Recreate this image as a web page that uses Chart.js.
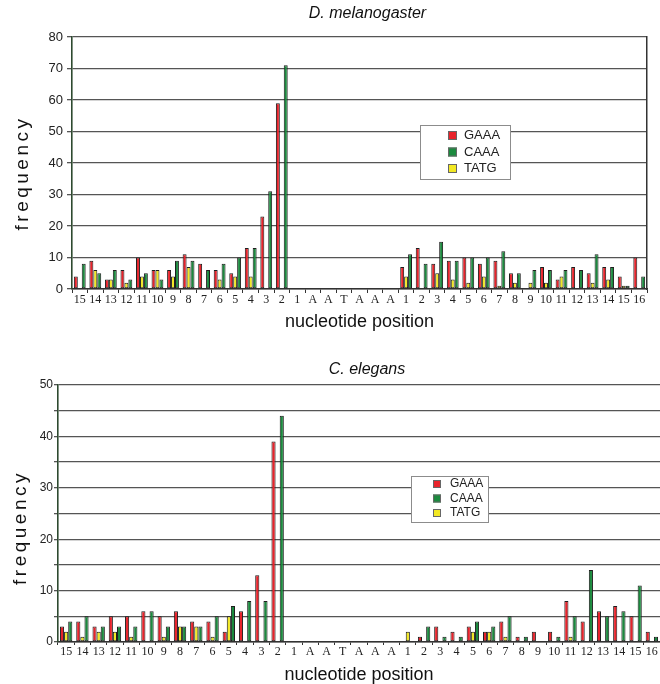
<!DOCTYPE html>
<html><head><meta charset="utf-8">
<script src="https://cdn.jsdelivr.net/npm/chart.js@4.4.1/dist/chart.umd.min.js"></script>
<style>
html,body{margin:0;padding:0;background:#fff;}
#wrap{position:relative;width:660px;height:684px;overflow:hidden;}
.box{position:absolute;left:0;width:660px;}
canvas{display:block;}
</style></head><body>
<div id="wrap">
<div class="box" style="top:0;height:340px"><canvas id="c1" width="660" height="340"></canvas></div>
<div class="box" style="top:340px;height:344px"><canvas id="c2" width="660" height="344"></canvas></div>
</div>
<script>
// ---- data ----
const positions = ['15','14','13','12','11','10','9','8','7','6','5','4','3','2','1',
  'A','A','T','A','A','A',
  '1','2','3','4','5','6','7','8','9','10','11','12','13','14','15','16'];

const melGAAA = [4,9,3,6,10,6,6,11,8,6,5,13,23,59,0, 0,0,0,0,0,0, 7,13,8,9,10,8,9,5,0,7,3,7,5,7,4,10];
const melTATG = [0,6,3,2,4,6,4,7,0,3,4,4,0,0,0, 0,0,0,0,0,0, 4,0,5,3,2,4,1,2,2,2,4,0,2,3,1,0];
const melCAAA = [8,5,6,3,5,3,9,9,6,8,10,13,31,71,0, 0,0,0,0,0,0, 11,8,15,9,10,10,12,5,6,6,6,6,11,7,1,4];

const celGAAA = [3,4,3,5,5,6,5,6,4,4,2,6,13,39,0, 0,0,0,0,0,0, 0,1,3,2,3,2,4,1,2,2,8,4,6,7,5,2];
const celTATG = [2,1,2,2,1,0,1,3,3,1,5,0,0,0,0, 0,0,0,0,0,0, 2,0,0,0,2,2,1,0,0,0,1,0,0,0,0,0];
const celCAAA = [4,5,3,3,3,6,3,3,3,5,7,8,8,44,0, 0,0,0,0,0,0, 0,3,1,1,4,3,5,1,0,1,5,14,5,6,11,1];

const seriesNames = ['GAAA','TATG','CAAA'];
const legendOrder = ['GAAA','CAAA','TATG'];
const colors = {GAAA:'#e8232b', TATG:'#f2e823', CAAA:'#1b8a3e'};

// ---- legend box plugin ----
const boxLegend = {
  id: 'boxLegend',
  afterDatasetsDraw(chart, args, o) {
    const ctx = chart.ctx;
    ctx.save();
    ctx.fillStyle = '#ffffff';
    ctx.fillRect(o.x, o.y, o.w, o.h);
    ctx.strokeStyle = '#8c8c8c';
    ctx.lineWidth = 1;
    ctx.strokeRect(o.x + 0.5, o.y + 0.5, o.w, o.h);
    legendOrder.forEach((name, i) => {
      const ds = chart.data.datasets.find(d => d.label === name);
      const cy = o.y + o.first + i * o.gap;
      ctx.fillStyle = ds.backgroundColor;
      ctx.fillRect(o.sx, cy - o.sq / 2, o.sq, o.sq);
      ctx.strokeStyle = '#666';
      ctx.strokeRect(o.sx + 0.5, cy - o.sq / 2 + 0.5, o.sq - 1, o.sq - 1);
      ctx.fillStyle = '#222';
      ctx.font = o.font;
      ctx.textBaseline = 'middle';
      ctx.textAlign = 'left';
      ctx.fillText(name, o.tx, cy);
    });
    ctx.restore();
  }
};

// shift the title block horizontally a little (title is centred on the plot in the original figure, slightly right)
const titleShift = {
  id: 'titleShift',
  afterLayout(chart, args, o) {
    if (chart.titleBlock) { chart.titleBlock.left += o.dx; chart.titleBlock.right += o.dx; }
  }
};

function makeDatasets(g, t, c) {
  const vals = {GAAA: g, TATG: t, CAAA: c};
  return seriesNames.map(n => ({
    label: n,
    data: vals[n],
    backgroundColor: colors[n],
    borderColor: '#1e1e1e',
    borderWidth: 1,
    borderSkipped: false,
    categoryPercentage: 0.76,
    barPercentage: 1.0
  }));
}

function makeChart(id, cfg) {
  const chart = new Chart(document.getElementById(id), {
    type: 'bar',
    data: { labels: positions, datasets: makeDatasets(cfg.g, cfg.t, cfg.c) },
    plugins: [boxLegend, titleShift],
    options: {
      responsive: false,
      animation: false,
      devicePixelRatio: 1,
      layout: { padding: 0 },
      plugins: {
        legend: { display: false },
        tooltip: { enabled: false },
        title: {
          display: true,
          text: cfg.title,
          fullSize: false,
          color: '#111',
          font: { family: 'Liberation Sans', size: 16, style: 'italic', weight: 'normal', lineHeight: 1.2 },
          padding: cfg.titlePad
        },
        titleShift: { dx: 8 },
        boxLegend: cfg.legend
      },
      scales: Object.assign({
        x: {
          type: 'category',
          offset: true,
          afterFit: s => { s.height = cfg.xHeight; },
          grid: { display: true, offset: true, drawOnChartArea: false, drawTicks: true,
                  tickLength: cfg.xTick, color: '#333', lineWidth: 1 },
          border: { display: true, color: '#333', width: 1.5 },
          ticks: { autoSkip: false, maxRotation: 0, minRotation: 0, padding: 0, color: '#222',
                   font: { family: 'Liberation Serif', size: 12 } },
          title: { display: true, text: 'nucleotide position', color: '#111',
                   font: { family: 'Liberation Sans', size: 18, lineHeight: 1 },
                   padding: { top: 0, bottom: cfg.xTitlePad } }
        },
        y: {
          min: 0, max: cfg.max,
          afterFit: s => { s.width = cfg.yWidth; },
          grid: { color: '#555', lineWidth: 1.3, drawTicks: true, tickLength: cfg.yTick },
          border: { display: true, color: '#2e4a30', width: 1.6 },
          ticks: { stepSize: cfg.step, padding: cfg.yPad, color: '#222',
                   font: { family: 'Liberation Sans', size: cfg.yFont },
                   callback: v => (v % 10 === 0 ? String(v) : '') },
          title: { display: true, text: 'frequency', color: '#111',
                   font: { family: 'Liberation Sans', size: 19, lineHeight: 1 },
                   padding: { top: cfg.yTitlePad, bottom: 0 } }
        }
      }, cfg.extraScales)
    }
  });
  // letter-spaced y-axis title, nudged down as in the original
  const ys = chart.scales.y;
  const origDrawTitle = ys.drawTitle.bind(ys);
  ys.drawTitle = function () {
    const ctx = this.ctx;
    ctx.save();
    ctx.translate(0, cfg.yTitleDy);
    if ('letterSpacing' in ctx) ctx.letterSpacing = '3.5px';
    origDrawTitle();
    ctx.restore();
  };
  chart.draw();
  return chart;
}

makeChart('c1', {
  g: melGAAA, t: melTATG, c: melCAAA,
  title: 'D. melanogaster', max: 80, step: 10,
  titlePad: { top: 4, bottom: 13.8 },
  xHeight: 51, xTick: 4, xTitlePad: 9,
  yWidth: 72, yTick: 5, yPad: 4, yFont: 13, yTitlePad: 13, yTitleDy: 10,
  legend: { x: 420, y: 125, w: 90, h: 54, first: 10.5, gap: 16.5, sx: 448, sq: 9, tx: 464,
            font: '13px "Liberation Sans"' },
  extraScales: {
    y2: {
      position: 'right', min: 0, max: 80,
      afterFit: s => { s.width = 13; },
      grid: { drawOnChartArea: false, drawTicks: false },
      border: { display: true, color: '#333', width: 1.5 },
      ticks: { display: false }
    }
  }
});

makeChart('c2', {
  g: celGAAA, t: celTATG, c: celCAAA,
  title: 'C. elegans', max: 50, step: 5,
  titlePad: { top: 20.4, bottom: 5.4 },
  xHeight: 42, xTick: 3, xTitlePad: 0,
  yWidth: 58, yTick: 4, yPad: 1, yFont: 12, yTitlePad: 11, yTitleDy: 14,
  legend: { x: 411, y: 136, w: 77, h: 46, first: 8, gap: 14.5, sx: 433, sq: 8, tx: 450,
            font: '12px "Liberation Sans"' },
  extraScales: {}
});
</script>
</body></html>
